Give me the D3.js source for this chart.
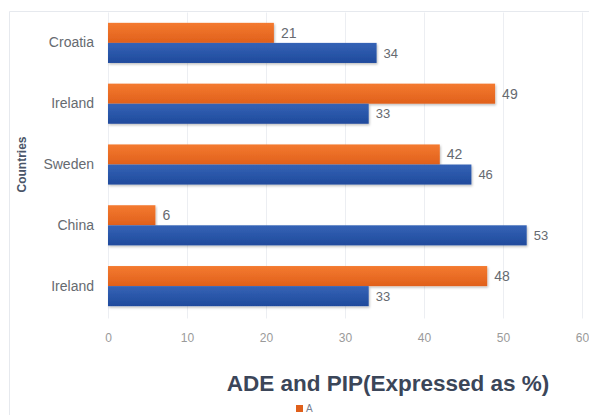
<!DOCTYPE html>
<html>
<head>
<meta charset="utf-8">
<script src="https://cdn.jsdelivr.net/npm/d3@7"></script>
<style>
  html, body { margin: 0; padding: 0; background: #ffffff; }
  svg { display: block; font-family: "Liberation Sans", Arial, sans-serif; }
</style>
</head>
<body>
<svg id="chart" width="589" height="415"></svg>
<script>
// Countries, top to bottom
const categories = ["Croatia", "Ireland", "Sweden", "China", "Ireland"];
// Series A (orange) and B (blue), in percent
const seriesNames = ["A", "B"];
const valuesA = [21, 49, 42, 6, 48];
const valuesB = [34, 33, 46, 53, 33];
const xTicks = [0, 10, 20, 30, 40, 50, 60];
const legendNames = ["A"];
const titleText = "ADE and PIP(Expressed as %)";
const yTitle = "Countries";

const colors = { A: ["#f47a30", "#e0601b"], B: ["#3563b6", "#1f4a9c"] };

const svg = d3.select("#chart");
const W = 589, H = 415;
const m = { left: 108, right: 7, top: 12.5, bottom: 98.5 };

const defs = svg.append("defs");
seriesNames.forEach(s => {
  const g = defs.append("linearGradient").attr("id", "grad" + s)
    .attr("x1", 0).attr("y1", 0).attr("x2", 0).attr("y2", 1);
  g.append("stop").attr("offset", "0%").attr("stop-color", colors[s][0]);
  g.append("stop").attr("offset", "100%").attr("stop-color", colors[s][1]);
});
const shadow = defs.append("filter").attr("id", "shadow")
  .attr("x", "-5%").attr("y", "-20%").attr("width", "110%").attr("height", "150%");
shadow.append("feDropShadow").attr("dx", 1).attr("dy", 1.5).attr("stdDeviation", 1)
  .attr("flood-color", "#000").attr("flood-opacity", 0.25);

// outer card frame
svg.append("path")
  .attr("d", `M9.5,${H} V11.5 H${W}`)
  .attr("fill", "none").attr("stroke", "#e6e9ee").attr("stroke-width", 1);

const x = d3.scaleLinear().domain([0, 60]).range([m.left, W - m.right]);
const idx = categories.map((_, i) => i);
const y = d3.scaleBand().domain(idx).range([m.top, H - m.bottom]).paddingInner(0.34).paddingOuter(0.17);
const ySub = d3.scaleBand().domain(seriesNames).range([0, y.bandwidth()]);

// vertical gridlines
svg.append("g").selectAll("line").data(xTicks).join("line")
  .attr("x1", d => x(d) + 0.5).attr("x2", d => x(d) + 0.5)
  .attr("y1", m.top).attr("y2", H - m.bottom + 2)
  .attr("stroke", "#eceef2").attr("stroke-width", 1);

// x axis labels
const xAxis = d3.axisBottom(x).tickValues(xTicks).tickSize(0).tickPadding(15);
const gx = svg.append("g").attr("transform", `translate(0,${H - m.bottom + 2})`).call(xAxis);
gx.select(".domain").remove();
gx.selectAll("text").attr("fill", "#9a9a9a").attr("font-size", 12);

// category labels
const yAxis = d3.axisLeft(y).tickFormat(i => categories[i]).tickSize(0).tickPadding(14);
const gy = svg.append("g").attr("transform", `translate(${m.left},0)`).call(yAxis);
gy.select(".domain").remove();
gy.selectAll("text").attr("fill", "#666a70").attr("font-size", 14);

// y axis title
svg.append("text")
  .attr("transform", `translate(26,${(m.top + H - m.bottom) / 2}) rotate(-90)`)
  .attr("text-anchor", "middle")
  .attr("font-size", 12).attr("font-weight", "bold").attr("fill", "#4a5568")
  .text(yTitle);

// bars
const rows = idx.map(i => ({ i, A: valuesA[i], B: valuesB[i] }));
const groups = svg.append("g").selectAll("g").data(rows).join("g")
  .attr("transform", d => `translate(0,${y(d.i)})`);

seriesNames.forEach(s => {
  groups.append("rect")
    .attr("x", x(0))
    .attr("y", ySub(s))
    .attr("width", d => x(d[s]) - x(0))
    .attr("height", ySub.bandwidth())
    .attr("fill", `url(#grad${s})`)
    .attr("filter", "url(#shadow)");
  groups.append("text")
    .attr("x", d => x(d[s]) + 7)
    .attr("y", ySub(s) + ySub.bandwidth() / 2)
    .attr("dy", "0.36em")
    .attr("font-size", s === "A" ? 14 : 13)
    .attr("fill", "#666a70")
    .text(d => d[s]);
});

// title
svg.append("text")
  .attr("x", 388).attr("y", 391)
  .attr("text-anchor", "middle")
  .attr("font-size", 22.5).attr("font-weight", "bold").attr("fill", "#3b4659")
  .text(titleText);

// legend
const lg = svg.append("g").attr("transform", "translate(296,404)");
const items = lg.selectAll("g").data(legendNames).join("g")
  .attr("transform", (d, i) => `translate(${i * 30},0)`);
items.append("rect").attr("width", 7).attr("height", 7).attr("y", 1)
  .attr("fill", d => colors[d][1]);
items.append("text").attr("x", 10).attr("y", 8).attr("font-size", 10)
  .attr("fill", "#7a8090").text(d => d);
</script>
</body>
</html>
